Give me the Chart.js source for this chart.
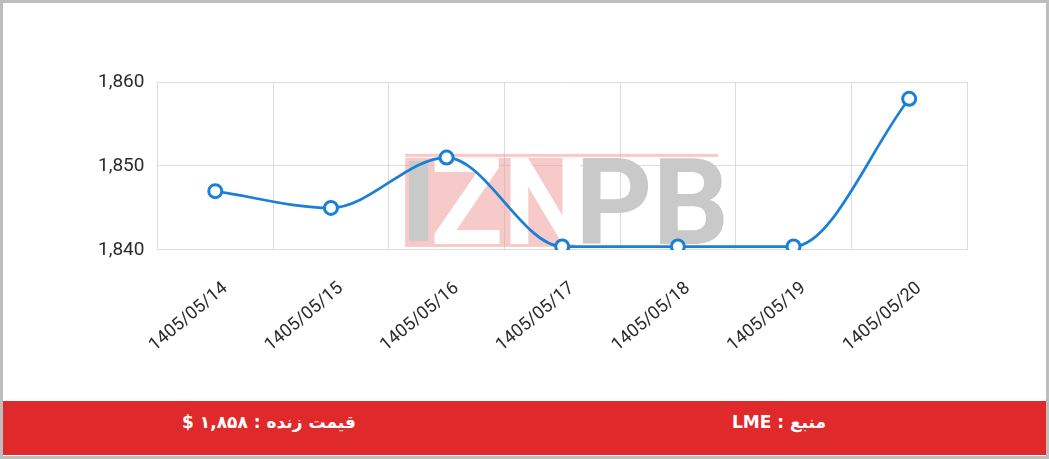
<!DOCTYPE html>
<html>
<head>
<meta charset="utf-8">
<script src="https://cdn.jsdelivr.net/npm/chart.js@4"></script>
<style>
  html, body { margin: 0; padding: 0; }
  body { width: 1049px; height: 459px; position: relative; background: #bdbdbd; overflow: hidden; }
  .page { position: absolute; left: 3px; top: 3px; width: 1043px; height: 453px; background: #fff; }
  .chart-box { position: absolute; left: 0; top: 0; width: 1043px; height: 398px; }
  .footer { position: absolute; left: 0; top: 398px; width: 1043px; height: 54px; background: #e0292b; }
  .footer span { position: absolute; top: 11px; color: #fff; font-family: "DejaVu Sans", sans-serif; font-weight: bold; font-size: 17px; direction: rtl; transform: translateX(-50%); white-space: nowrap; }
</style>
</head>
<body>
<div class="page">
  <div class="chart-box"><canvas id="myChart"></canvas></div>
  <div class="footer">
    <span id="live-price" style="left:266px"></span>
    <span id="source" style="left:776px"></span>
  </div>
</div>
<script>
// داده‌های نمودار
const dates = ['1405/05/14', '1405/05/15', '1405/05/16', '1405/05/17', '1405/05/18', '1405/05/19', '1405/05/20'];
const prices = [1847, 1845, 1851, 1840.4, 1840.4, 1840.4, 1858];
const yMin = 1840;
const yMax = 1860;
const yStep = 10;
const livePriceText = 'قیمت زنده : ۱,۸۵۸ $';
const sourceText = 'منبع : LME';

document.getElementById('live-price').textContent = livePriceText;
document.getElementById('source').textContent = sourceText;

const ctx = document.getElementById('myChart');

// لوگوی کم‌رنگ پشت خط
const watermark = {
    id: 'watermark',
    beforeDatasetsDraw(chart) {
        const c = chart.ctx;
        const a = chart.chartArea;
        const x0 = a.left + (a.right - a.left) * 0.306;
        const bottom = a.bottom - 3;
        const h = 90;
        const top = bottom - h;
        c.save();
        c.fillStyle = 'rgba(240, 150, 150, 0.5)';
        c.fillRect(x0, top - 3, 313, 3);
        c.fillRect(x0, top + 1, 170, h - 1);
        c.fillStyle = '#c9c9c9';
        c.fillRect(x0 + 4, top + 4, 19, h - 10);
        c.font = 'bold 120px Roboto';
        c.textBaseline = 'alphabetic';
        c.fillStyle = '#ffffff';
        c.fillText('ZN', x0 + 25, bottom - 3);
        c.fillStyle = '#c9c9c9';
        c.fillText('PB', x0 + 170, bottom - 3);
        c.restore();
    }
};

window.myChart = new Chart(ctx, {
    type: 'line',
    data: {
        labels: dates,
        datasets: [{
            data: prices,
            borderColor: '#1a7fd6',
            borderWidth: 2.7,
            backgroundColor: '#fff',
            pointBackgroundColor: '#fff',
            pointBorderColor: '#1a7fd6',
            pointBorderWidth: 3,
            pointRadius: 6.5,
            pointHoverRadius: 6.5,
            cubicInterpolationMode: 'monotone',
            fill: false
        }]
    },
    options: {
        responsive: true,
        maintainAspectRatio: false,
        animation: false,
        layout: { padding: { left: 82, right: 79, top: 79, bottom: 17 } },
        plugins: { legend: { display: false }, tooltip: { enabled: false } },
        scales: {
            x: {
                offset: true,
                grid: { color: '#dcdcdc', drawTicks: false, offset: true },
                border: { color: '#dcdcdc' },
                ticks: {
                    color: '#2b2b2b',
                    font: { family: 'Roboto', size: 18 },
                    minRotation: 40,
                    maxRotation: 40,
                    padding: 28,
                    labelOffset: 10
                },
                afterFit(scale) {
                    scale.paddingLeft = 0;
                    scale.paddingRight = 0;
                }
            },
            y: {
                min: yMin,
                max: yMax,
                grid: { color: '#dcdcdc', drawTicks: false },
                border: { color: '#dcdcdc' },
                ticks: {
                    stepSize: yStep,
                    color: '#2b2b2b',
                    font: { family: 'Roboto', size: 19 },
                    padding: 13
                }
            }
        }
    },
    plugins: [watermark]
});
</script>
</body>
</html>
